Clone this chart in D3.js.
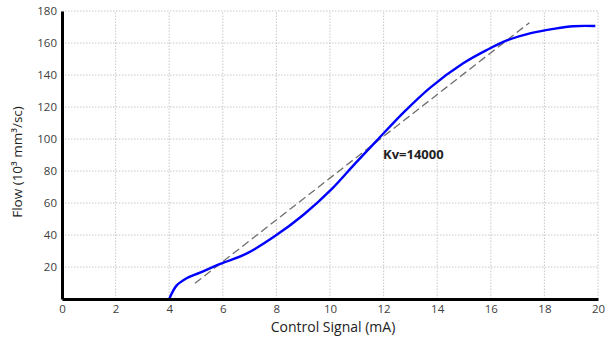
<!DOCTYPE html>
<html>
<head>
<meta charset="utf-8">
<script src="https://cdn.jsdelivr.net/npm/d3@7"></script>
<style>
  body { margin: 0; background: #fff; }
  svg { display: block; font-family: "Open Sans", "Noto Sans", sans-serif; }
</style>
</head>
<body>
<div id="chart"></div>
<script>
// control signal (mA) vs flow
const signal = [4, 4.28, 4.65, 5.15, 5.9, 6.9, 7.92, 9.0, 10.08, 10.9, 11.8, 12.74, 13.73, 14.97, 15.85, 16.6, 17.46, 18.33, 19.08, 19.9];
const flow   = [0, 8.5, 13, 16.5, 21.9, 28.5, 39, 52.5, 69, 84, 100, 116.5, 132, 147.3, 155.6, 161.6, 166, 168.8, 170.5, 170.6];

// linear fit (Kv) endpoints
const fitSignal = [4.96, 17.44];
const fitFlow = [9.8, 172.7];

const xTicks = [0, 2, 4, 6, 8, 10, 12, 14, 16, 18, 20];
const yTicks = [20, 40, 60, 80, 100, 120, 140, 160, 180];

const width = 613, height = 340;

const svg = d3.select('#chart')
    .append('svg')
        .attr('width', width)
        .attr('height', height);

const x = d3.scaleLinear().domain([0, 20]).range([62, 598]);
const y = d3.scaleLinear().domain([0, 180]).range([299, 11]);

// grid
svg.append('g')
    .selectAll('line')
    .data(xTicks.slice(1))
    .join('line')
        .attr('x1', d => x(d)).attr('x2', d => x(d))
        .attr('y1', y(0)).attr('y2', y(180))
        .attr('stroke', '#c8c8c8')
        .attr('stroke-dasharray', '1.5,1.5');

svg.append('g')
    .selectAll('line')
    .data(yTicks)
    .join('line')
        .attr('x1', x(0)).attr('x2', x(20))
        .attr('y1', d => y(d)).attr('y2', d => y(d))
        .attr('stroke', '#c8c8c8')
        .attr('stroke-dasharray', '1.5,1.5');

// fit line
svg.append('line')
    .attr('x1', x(fitSignal[0])).attr('y1', y(fitFlow[0]))
    .attr('x2', x(fitSignal[1])).attr('y2', y(fitFlow[1]))
    .attr('stroke', '#6e6e6e')
    .attr('stroke-width', 1.3)
    .attr('stroke-dasharray', '8,4');

// flow curve
const points = signal.map((s, i) => [s, flow[i]]);
const lineBuilder = d3.line()
    .x(d => x(d[0]))
    .y(d => y(d[1]))
    .curve(d3.curveCatmullRom.alpha(0.5));

svg.append('path')
    .datum(points)
    .attr('fill', 'none')
    .attr('stroke', '#0000ff')
    .attr('stroke-width', 2.4)
    .attr('d', lineBuilder);

// axes
const axisBottom = d3.axisBottom(x).tickValues(xTicks).tickSize(0).tickPadding(6);
const axisLeft = d3.axisLeft(y).tickValues(yTicks).tickSize(0).tickPadding(5);

const gx = svg.append('g')
    .attr('transform', 'translate(0,' + y(0) + ')')
    .call(axisBottom);
const gy = svg.append('g')
    .attr('transform', 'translate(' + x(0) + ',0)')
    .call(axisLeft);

[gx, gy].forEach(g => {
    g.select('.domain').attr('stroke', '#000').attr('stroke-width', 3);
    g.selectAll('text')
        .attr('font-size', 11.5)
        .attr('font-family', '"Open Sans", sans-serif')
        .attr('fill', '#404040');
});

// axis labels
svg.append('text')
    .attr('x', 333)
    .attr('y', 332)
    .attr('text-anchor', 'middle')
    .attr('font-size', 14)
    .attr('fill', '#222')
    .text('Control Signal (mA)');

svg.append('text')
    .attr('transform', 'translate(22,162) rotate(-90)')
    .attr('text-anchor', 'middle')
    .attr('font-size', 13.5)
    .attr('fill', '#222')
    .text('Flow (10³ mm³/sc)');

// annotation
svg.append('text')
    .attr('x', 383)
    .attr('y', 159)
    .attr('font-size', 13)
    .attr('font-weight', 'bold')
    .attr('fill', '#222')
    .text('Kv=14000');
</script>
</body>
</html>
